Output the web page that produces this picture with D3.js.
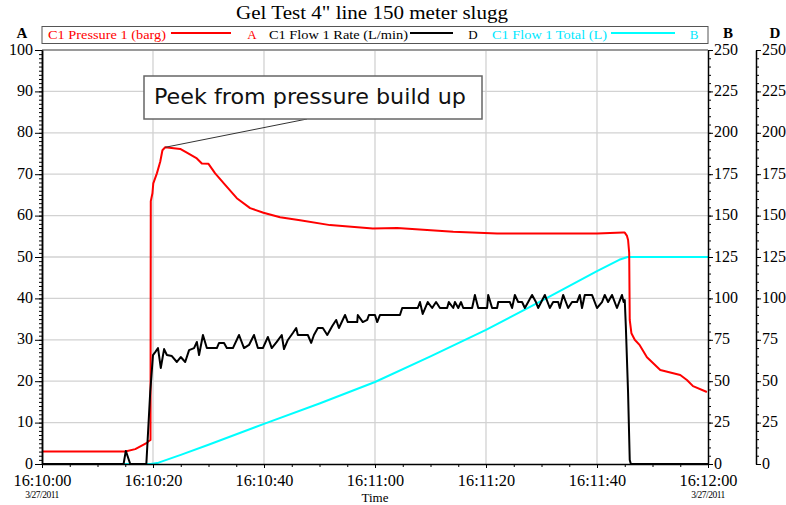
<!DOCTYPE html>
<html><head><meta charset="utf-8">
<script src="https://cdn.jsdelivr.net/npm/d3@7"></script>
<style>
body{margin:0;background:#fff;}
svg{display:block;}
text{font-family:"Liberation Serif","Times New Roman",serif;}
</style></head>
<body><svg id="c" width="786" height="505"></svg>
<script>
// ---- data (seconds after 16:10:00 on 3/27/2011) ----
const pressureTime  = [0,15.0,16.8,18.9,19.3,19.55,19.6,19.9,20.05,20.7,21.3,21.7,22.2,24.9,26.1,27.9,28.8,30.0,31.2,33.0,35.1,37.5,39.9,42.9,46.5,51.9,59.6,64.0,74.1,82.0,100.0,104.7,105.0,105.4,105.6,105.8,105.9,106.2,106.8,107.7,109.0,111.4,115.0,116.2,117.3,119.8];
const pressureValue = [3,3,3.6,5.1,5.6,5.8,63.5,65.4,67.8,70.2,73.0,75.8,76.5,76.1,75.2,73.8,72.6,72.5,70.2,67.4,64.2,61.8,60.7,59.6,58.9,57.7,56.9,57.0,56.1,55.7,55.7,55.9,55.9,55.1,54.1,51.0,34.8,31.6,30.0,28.7,25.8,22.7,21.5,20.3,18.8,17.4];

const rateTime  = [0,14.7,15.1,15.9,18.8,19.5,20.0,20.4,20.9,21.4,22.0,22.5,23.4,24.3,25.0,25.8,26.5,27.4,27.9,28.3,29.0,29.7,31.5,31.9,32.8,33.3,34.4,35.5,36.4,37.3,38.2,38.9,39.8,40.7,41.4,42.3,43.2,43.6,44.3,45.2,45.8,46.1,47.9,48.5,49.0,49.7,50.6,51.4,52.3,53.0,53.5,54.6,55.1,56.8,56.9,57.8,58.6,58.9,60.0,60.4,60.9,64.5,64.9,67.7,68.1,68.6,69.5,70.3,71.0,71.7,73.0,73.3,74.1,74.4,75.0,75.5,75.9,77.5,78.0,78.6,80.2,80.4,81.1,82.0,82.2,84.3,84.7,85.2,85.8,86.5,87.0,87.6,88.3,89.0,89.4,90.6,91.5,92.1,93.0,93.3,93.9,94.8,95.5,96.4,96.9,97.3,97.8,99.1,100.0,100.9,101.4,102.0,102.7,103.6,104.5,104.8,105.0,105.2,105.6,105.9,106.1,120];
const rateValue = [0,0,7.9,0,0,43.5,65.8,67.6,70.0,58.0,69.4,65.8,65.2,61.6,64.6,61.6,68.8,70.0,73.7,65.8,77.9,70.0,70.0,73.1,73.1,70.0,70.0,77.9,70.0,71.9,77.9,70.0,70.0,76.7,70.0,73.7,77.9,69.4,74.9,79.1,82.1,77.9,77.9,73.1,77.9,82.1,82.1,77.9,83.3,87.0,82.1,90.0,85.7,85.7,90.0,85.7,87.0,90.0,90.0,85.7,90.0,90.0,94.2,94.2,97.8,90.6,97.8,94.2,97.8,94.2,94.2,97.8,94.2,97.8,94.2,97.8,94.2,94.2,102.1,94.2,94.2,102.1,94.2,94.2,97.8,97.8,94.2,102.1,97.8,97.8,94.2,97.8,102.1,97.8,94.2,102.1,94.2,97.8,97.8,94.2,102.1,94.2,97.8,97.8,102.1,94.2,102.1,102.1,94.2,97.8,102.1,97.8,102.1,94.2,102.1,97.8,99.0,82.7,42.9,2.4,0,0];

const totalTime  = [0,19.6,21,25,30,40,50,60,70,80,90,100,104,105.5,120];
const totalValue = [0,0,0.8,5.5,11.6,24.2,36.5,49.5,65,81,98.5,116.5,123.3,125,125];

const leftTicks  = [0,10,20,30,40,50,60,70,80,90,100];
const rightTicks = [0,25,50,75,100,125,150,175,200,225,250];
const timeTicksSec = [0,20,40,60,80,100,120];

const titleText = 'Gel Test 4" line 150 meter slugg';
const legendLabels = ["C1 Pressure 1 (barg)","C1 Flow 1 Rate (L/min)","C1 Flow 1 Total (L)"];
const legendAxes = ["A","D","B"];
const annotationText = "Peek from pressure build up";

// ---- layout ----
const svg = d3.select("#c");
const L=42, R=708, T=50, B=464, RD=756;
const base = new Date(2011,2,27,16,10,0);
const toDate = s => new Date(base.getTime()+s*1000);

const x  = d3.scaleTime().domain([toDate(0),toDate(120)]).range([L,R]);
const yA = d3.scaleLinear().domain([0,100]).range([B,T]);
const yB = d3.scaleLinear().domain([0,250]).range([B,T]);
const yD = d3.scaleLinear().domain([0,250]).range([B,T]);

// gridlines
const grid = svg.append("g");
grid.selectAll("line.h").data(leftTicks.slice(1,-1)).enter().append("line")
  .attr("x1",L).attr("x2",R).attr("y1",d=>yA(d)).attr("y2",d=>yA(d))
  .attr("stroke","#d2d2d2").attr("stroke-width",1.3);
grid.selectAll("line.v").data(timeTicksSec.slice(1,-1)).enter().append("line")
  .attr("y1",T).attr("y2",B).attr("x1",d=>x(toDate(d))).attr("x2",d=>x(toDate(d)))
  .attr("stroke","#d2d2d2").attr("stroke-width",1.3);
svg.append("line").attr("x1",L).attr("x2",R).attr("y1",T).attr("y2",T)
  .attr("stroke","#9a9a9a").attr("stroke-width",2);

// lines
function series(ts, vs, y, color){
  const pts = ts.map((t,i)=>[x(toDate(t)), y(vs[i])]);
  svg.append("path").attr("d", d3.line()(pts)).attr("fill","none")
    .attr("stroke",color).attr("stroke-width",2).attr("stroke-linejoin","round");
}
series(totalTime,totalValue,yB,"#00ffff");
series(pressureTime,pressureValue,yA,"#ff0000");
series(rateTime,rateValue,yD,"#000000");

// axes
function styleAxis(g){
  g.selectAll("text").style("font-family","Liberation Serif").style("font-size","16px").attr("fill","#000");
  g.selectAll("line").attr("stroke","#000");
  g.select(".domain").attr("stroke","#000").attr("stroke-width",1.5);
}
const gl = svg.append("g").attr("transform",`translate(${L},0)`);
gl.call(d3.axisLeft(yA).tickValues(d3.range(0,101,1)).tickSize(3).tickFormat("").tickSizeOuter(0));
gl.append("g").call(d3.axisLeft(yA).tickValues(leftTicks).tickSize(7).tickPadding(2).tickSizeOuter(0));
styleAxis(gl); gl.selectAll(".domain").attr("stroke-width",1.5);
gl.selectAll("text").attr("dy","0.25em");

function rightAxis(pos, scale){
  const g = svg.append("g").attr("transform",`translate(${pos},0)`);
  g.call(d3.axisRight(scale).tickValues(d3.range(0,251,5)).tickSize(3).tickFormat("").tickSizeOuter(0));
  g.append("g").call(d3.axisRight(scale).tickValues(rightTicks).tickSize(5).tickPadding(1).tickSizeOuter(0));
  styleAxis(g);
  g.selectAll("text").attr("dy","0.25em");
}
rightAxis(R,yB);
rightAxis(RD,yD);

const gb = svg.append("g").attr("transform",`translate(0,${B})`);
gb.call(d3.axisBottom(x).tickValues(d3.range(0,121,5).map(toDate)).tickSize(3).tickFormat("").tickSizeOuter(0));
gb.append("g").call(d3.axisBottom(x).tickValues(timeTicksSec.map(toDate)).tickSize(4).tickPadding(6.5)
  .tickFormat(d3.timeFormat("%H:%M:%S")).tickSizeOuter(0));
styleAxis(gb);
gb.selectAll("text").style("font-size","16.3px");

// dates under first/last tick
[0,120].forEach(s=>{
  svg.append("text").attr("x",x(toDate(s))).attr("y",498).attr("text-anchor","middle")
    .style("font-size","9.5px").style("letter-spacing","-0.5px").text(d3.timeFormat("%-m/%d/%Y")(toDate(s)));
});
svg.append("text").attr("x",375).attr("y",502).attr("text-anchor","middle").style("font-size","13px").text("Time");

// axis titles
[["A",22],["B",728],["D",775]].forEach(([t,xx])=>{
  svg.append("text").attr("x",xx).attr("y",38).attr("text-anchor","middle")
    .style("font-size","15px").style("font-weight","bold").text(t);
});

// title
svg.append("text").attr("x",236).attr("y",19)
  .attr("textLength",272).attr("lengthAdjust","spacingAndGlyphs")
  .style("font-size","19.5px").text(titleText);

// legend
svg.append("rect").attr("x",L).attr("y",26.5).attr("width",R-L).attr("height",17)
  .attr("fill","#fff").attr("stroke","#555").attr("stroke-width",1);
const legendColors = ["#ff0000","#000000","#00e8ff"];
const legendTextX = [48,269,492], legendTextW=[118,139,115];
const legendLine = [[171,231],[410,453],[611,675]];
const legendAxisX = [252,473,694];
legendLabels.forEach((lab,i)=>{
  svg.append("text").attr("x",legendTextX[i]).attr("y",39).style("font-size","13px")
    .attr("textLength",legendTextW[i]).attr("lengthAdjust","spacingAndGlyphs")
    .attr("fill",legendColors[i]).text(lab);
  svg.append("line").attr("x1",legendLine[i][0]).attr("x2",legendLine[i][1]).attr("y1",33).attr("y2",33)
    .attr("stroke",i===2?"#00ffff":legendColors[i]).attr("stroke-width",2);
  svg.append("text").attr("x",legendAxisX[i]).attr("y",39).attr("text-anchor","middle").style("font-size","13px")
    .attr("fill",legendColors[i]).text(legendAxes[i]);
});

// annotation
const peakT = 22.2, peakV = 76.5;
svg.append("line").attr("x1",307).attr("y1",119).attr("x2",x(toDate(peakT))).attr("y2",yA(peakV))
  .attr("stroke","#333").attr("stroke-width",1);
svg.append("rect").attr("x",144).attr("y",76).attr("width",338).attr("height",43)
  .attr("fill","#fff").attr("stroke","#666").attr("stroke-width",1.5);
svg.append("text").attr("x",154).attr("y",104).attr("textLength",312).attr("lengthAdjust","spacingAndGlyphs")
  .style("font-family","DejaVu Sans").style("font-size","21px").attr("fill","#111").text(annotationText);
</script></body></html>
